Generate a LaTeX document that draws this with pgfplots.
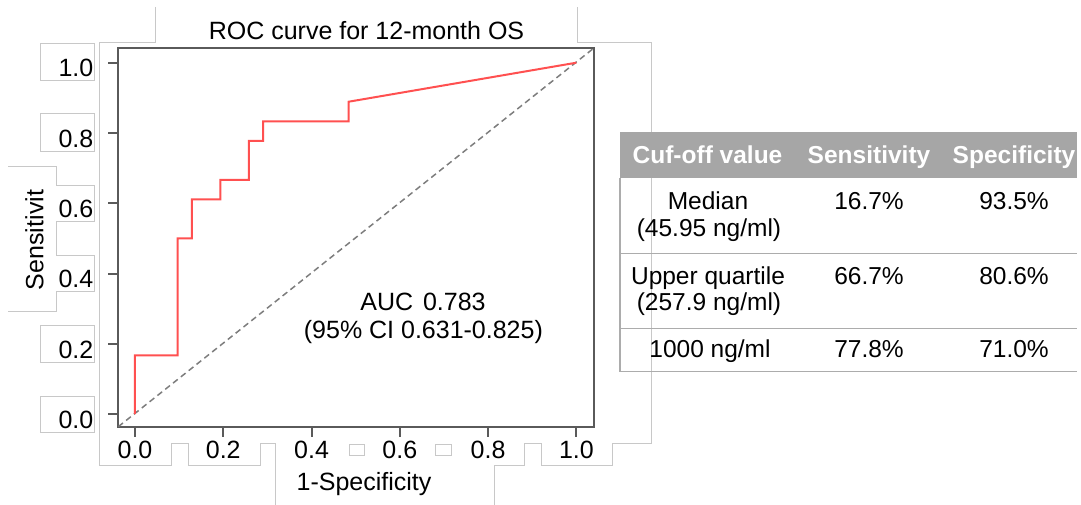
\documentclass[border=0pt]{standalone}
\usepackage{fontspec}
\setmainfont{Liberation Sans}
\usepackage{pgfplots}
\pgfplotsset{compat=1.18}
\definecolor{art}{RGB}{200,200,200}
\definecolor{axgray}{RGB}{90,90,90}
\definecolor{rocred}{RGB}{255,80,80}
\definecolor{dashgray}{RGB}{125,125,125}
\definecolor{hdr}{RGB}{166,166,166}
\definecolor{tline}{RGB}{172,172,172}
\newcommand{\fs}{\fontsize{25bp}{30bp}\selectfont}
\newcommand{\ft}{\fontsize{24.5bp}{29bp}\selectfont}
\begin{document}
\begin{tikzpicture}[x=1bp,y=1bp]
\useasboundingbox (0,0) rectangle (1081,505);
\coordinate (A) at (118.3,78.3);
% faint frame artefacts of the original screenshot
\begin{scope}[draw=art, line width=0.9bp]
\draw (155,498) -- (155,463) -- (99.5,463) -- (99.5,40) -- (171.7,40) -- (171.7,61.7) -- (188.3,61.7) -- (188.3,40) -- (260.7,40) -- (260.7,61.7) -- (275.7,61.7) -- (275.7,0);
\draw (494,0) -- (494,40) -- (524.3,40) -- (524.3,61.7) -- (541,61.7) -- (541,40) -- (612.3,40) -- (612.3,61.7) -- (651.5,61.7) -- (651.5,463) -- (577.7,463) -- (577.7,498);
\draw (349,61) rectangle (364,50);
\draw (435.7,61) rectangle (451.7,50);
\draw (40.7,461.7) rectangle (94.3,424.7);
\draw (40.7,391.3) rectangle (94.3,354);
\draw (8,338.3) -- (56.7,338.3) -- (56.7,319.7) -- (94.3,319.7) -- (94.3,283.3) -- (56.7,283.3) -- (56.7,250) -- (94.3,250) -- (94.3,213.3) -- (56.7,213.3) -- (56.7,193.3) -- (8,193.3);
\draw (40.7,179.3) rectangle (94.3,142.7);
\draw (40.7,109) rectangle (94.3,72.7);
\end{scope}
\begin{axis}[
  at={(A)}, anchor=south west, scale only axis,
  width=475.3bp, height=378.4bp,
  xmin=-0.0378, xmax=1.039, ymin=-0.036, ymax=1.041,
  xtick={0,0.2,0.4,0.6,0.8,1}, ytick={0,0.2,0.4,0.6,0.8,1},
  xtick pos=lower, ytick pos=left,
  tick align=outside, major tick length=10bp,
  axis line style={draw=axgray, line width=2bp},
  every tick/.style={draw=axgray, line width=2bp},
  xticklabel style={font=\fs, anchor=base, inner sep=0pt, yshift=-22.3bp},
  yticklabel style={font=\fs, anchor=base east, inner sep=0pt, xshift=-14.8bp, yshift=-14.3bp},
  /pgf/number format/.cd, fixed, fixed zerofill, precision=1, assume math mode=true,
]
\addplot[dashgray, line width=1.5bp, dash pattern=on 6bp off 4bp] coordinates {(-0.0378,-0.036) (1.039,1.041)};
\addplot[rocred, line width=2bp] coordinates {
(0,0) (0,0.1667) (0.0968,0.1667) (0.0968,0.5) (0.129,0.5) (0.129,0.6111)
(0.1935,0.6111) (0.1935,0.6667) (0.2581,0.6667) (0.2581,0.7778) (0.2903,0.7778)
(0.2903,0.8333) (0.4839,0.8333) (0.4839,0.8889) (1,1)};
\end{axis}
\node[anchor=base, font=\fs, inner sep=0pt] at (366.5,465.5) {ROC curve for 12-month OS};
\node[anchor=base, font=\fs, inner sep=0pt] at (423,194.5) {AUC\hspace{0.4em}0.783};
\node[anchor=base, font=\fs, inner sep=0pt] at (423.4,166) {(95\% CI 0.631-0.825)};
\node[anchor=base, font=\fs, inner sep=0pt] at (364,14) {1-Specificity};
\node[anchor=base, font=\fs, inner sep=0pt, rotate=90] at (43.3,265) {Sensitivit};
% table
\fill[hdr] (620,372.5) rectangle (1077,326.7);
\begin{scope}[draw=tline, line width=1.5bp]
\draw (620,326.7) -- (620,133.3);
\draw (620,251.7) -- (1077,251.7);
\draw (620,176.7) -- (1077,176.7);
\draw (620,133.3) -- (1077,133.3);
\end{scope}
\begin{scope}[every node/.style={anchor=base, font=\ft, inner sep=0pt}]
\node[text=white, font=\ft\bfseries] at (707.5,341.7) {Cuf-off value};
\node[text=white, font=\ft\bfseries] at (869,341.7) {Sensitivity};
\node[text=white, font=\ft\bfseries] at (1014,341.7) {Specificity};
\node at (708,295) {Median};
\node at (709,268.5) {(45.95 ng/ml)};
\node at (869,295) {16.7\%};
\node at (1014,295) {93.5\%};
\node at (708,220) {Upper quartile};
\node at (709,194) {(257.9 ng/ml)};
\node at (869,220) {66.7\%};
\node at (1014,220) {80.6\%};
\node at (710,147) {1000 ng/ml};
\node at (869,147) {77.8\%};
\node at (1014,147) {71.0\%};
\end{scope}
\end{tikzpicture}
\end{document}
